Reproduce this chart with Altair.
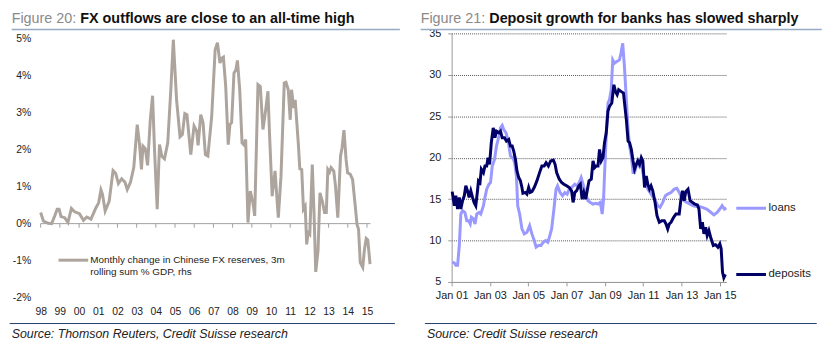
import altair as alt
import pandas as pd

FONT = "Liberation Sans, Arial, Helvetica, sans-serif"

# ---------------- Figure 20 data: FX reserves change, 3m rolling sum % GDP ----------------
fx_year = [1998.00, 1998.14, 1998.39, 1998.57, 1998.74, 1998.86, 1998.96, 1999.06, 1999.25, 1999.42,
           1999.60, 1999.77, 2000.02, 2000.23, 2000.40, 2000.62, 2000.88, 2001.02, 2001.14, 2001.22,
           2001.36, 2001.57, 2001.77, 2001.91, 2002.05, 2002.22, 2002.39, 2002.51, 2002.68, 2002.85,
           2003.03, 2003.15, 2003.25, 2003.33, 2003.45, 2003.57, 2003.71, 2003.83, 2003.93, 2004.07,
           2004.19, 2004.31, 2004.45, 2004.62, 2004.79, 2004.91, 2005.08, 2005.26, 2005.38, 2005.51,
           2005.62, 2005.82, 2005.99, 2006.13, 2006.20, 2006.34, 2006.46, 2006.58, 2006.71,
           2006.91, 2007.09, 2007.21, 2007.34, 2007.43, 2007.52, 2007.64, 2007.77, 2007.86, 2007.95,
           2008.07, 2008.17, 2008.25, 2008.37, 2008.49, 2008.58, 2008.68, 2008.80, 2008.92,
           2009.06, 2009.15, 2009.32, 2009.44, 2009.58, 2009.70, 2009.84, 2009.92,
           2010.06, 2010.21, 2010.38, 2010.52, 2010.69, 2010.78, 2010.90,
           2011.00, 2011.07, 2011.18, 2011.26, 2011.42, 2011.50, 2011.60, 2011.69, 2011.78, 2011.86, 2011.93,
           2012.02, 2012.15, 2012.24, 2012.33, 2012.45, 2012.55, 2012.67, 2012.79, 2012.88, 2012.96,
           2013.05, 2013.13, 2013.27, 2013.36, 2013.48, 2013.62, 2013.70, 2013.80, 2013.91, 2013.99,
           2014.13, 2014.25, 2014.39, 2014.48, 2014.56, 2014.65, 2014.78, 2014.87, 2014.96,
           2015.04, 2015.16]
fx_value = [0.30, 0.07, 0.01, 0.00, 0.22, 0.39, 0.39, 0.19, 0.16, 0.03,
            0.41, 0.32, 0.27, 0.09, 0.18, 0.12, 0.43, 0.56, 0.91, 0.79,
            0.34, 0.61, 1.43, 1.35, 1.08, 1.21, 1.12, 0.92, 1.12, 1.51,
            2.67, 2.13, 1.46, 2.09, 2.02, 1.57, 2.80, 3.45, 2.00, 0.39,
            2.13, 1.82, 1.75, 2.18, 3.70, 4.96, 3.34, 2.34, 2.40, 2.97,
            2.94, 1.86, 2.63, 2.49, 2.11, 2.94, 2.72, 1.86, 1.82,
            2.89, 4.69, 4.88, 4.33, 4.46, 4.49, 3.70, 2.13, 2.67, 2.73,
            4.06, 4.15, 4.40, 3.61, 2.18, 2.13, 2.27, 0.03, 0.88,
            0.56, 0.21, 3.75, 3.70, 2.54, 2.98, 3.57, 2.45,
            0.74, 1.42, 0.16, 1.28, 3.79, 3.81, 3.61,
            2.80, 3.61, 3.12, 3.34, 2.18, 1.48, 1.46, 0.39, 0.47, -0.56, -0.24,
            -0.29, 1.59, 0.30, -1.30, -0.73, 0.83, 0.61, 0.30, 0.30, 1.46,
            1.39, 1.51, 1.42, 1.01, 0.16, 1.82, 2.04, 2.52, 1.73, 1.37,
            1.33, 1.19, 0.47, -0.02, -0.15, -1.05, -1.18, -0.69, -0.40,
            -0.44, -1.09]
fx_ticks = list(range(1998, 2016))
fx_yticks = list(range(-2, 6))

# ---------------- Figure 21 data: loans and deposits growth ----------------
dep_year = [2001.03, 2001.14, 2001.22, 2001.31, 2001.40, 2001.48, 2001.57, 2001.66, 2001.74, 2001.83,
            2001.91, 2002.00, 2002.09, 2002.17, 2002.26, 2002.34, 2002.40, 2002.48, 2002.55, 2002.66,
            2002.74, 2002.83, 2002.90, 2002.98, 2003.07, 2003.17, 2003.26, 2003.34, 2003.47, 2003.55,
            2003.64, 2003.76, 2003.86, 2003.98, 2004.07, 2004.16, 2004.24, 2004.33, 2004.41, 2004.50,
            2004.59, 2004.67, 2004.72, 2004.84, 2004.93, 2005.02, 2005.10, 2005.19, 2005.31, 2005.45,
            2005.59, 2005.71, 2005.83, 2005.93, 2006.05, 2006.17, 2006.31, 2006.40, 2006.48, 2006.62,
            2006.74, 2006.86, 2007.00, 2007.14, 2007.26, 2007.34, 2007.43, 2007.52, 2007.64, 2007.72,
            2007.81, 2007.90, 2008.00, 2008.09, 2008.17, 2008.29, 2008.38, 2008.47, 2008.55, 2008.64,
            2008.72, 2008.81, 2008.90, 2008.98, 2009.07, 2009.16, 2009.24, 2009.36, 2009.47, 2009.55,
            2009.64, 2009.72, 2009.84, 2009.97,
            2010.12, 2010.21, 2010.29, 2010.38, 2010.47, 2010.55, 2010.64, 2010.72, 2010.81, 2010.90,
            2010.98, 2011.07, 2011.16, 2011.24, 2011.33, 2011.41, 2011.50, 2011.62, 2011.72, 2011.84,
            2011.97, 2012.10, 2012.19, 2012.28, 2012.36, 2012.45, 2012.59, 2012.71, 2012.88, 2012.97,
            2013.05, 2013.14, 2013.22, 2013.34, 2013.45, 2013.57, 2013.69, 2013.83, 2013.91, 2014.00,
            2014.09, 2014.17, 2014.26, 2014.34, 2014.43, 2014.52, 2014.66, 2014.78, 2014.90, 2015.00,
            2015.07, 2015.14, 2015.21, 2015.29]
dep_value = [15.9, 14.2, 15.4, 13.8, 15.2, 13.8, 14.8, 15.4, 16.6, 16.0,
             15.2, 16.0, 15.2, 14.6, 14.2, 15.8, 17.2, 17.0, 18.6, 18.2,
             19.0, 19.0, 20.0, 19.2, 21.8, 23.6, 22.4, 23.2, 23.0, 23.2,
             22.4, 22.4, 22.0, 22.2, 21.4, 21.4, 20.8, 19.8, 18.4, 17.6,
             17.2, 16.4, 15.7, 15.8, 15.6, 16.4, 15.8, 15.9, 16.4, 17.2,
             18.2, 19.0, 19.0, 19.4, 19.0, 19.6, 19.7, 19.2, 18.2, 17.4,
             17.0, 16.8, 16.6, 16.4, 16.0, 14.6, 15.8, 16.0, 16.6, 16.8,
             15.0, 15.8, 15.0, 16.2, 17.2, 17.4, 19.6, 18.8, 19.0, 19.0,
             21.0, 19.6, 20.0, 21.8, 23.0, 25.6, 26.2, 26.6, 28.8, 28.0,
             27.6, 28.2, 28.0, 27.8,
             24.6, 22.0, 21.8, 21.0, 19.6, 18.6, 19.2, 19.6, 19.2, 20.0,
             19.6, 16.4, 17.8, 16.8, 16.2, 16.6, 16.0, 14.6, 13.0, 12.2,
             12.4, 12.4, 12.0, 11.4, 12.0, 12.2, 12.8, 13.2, 13.2, 15.0,
             16.0, 14.8, 15.9, 16.2, 14.8, 14.6, 14.4, 14.3, 13.8, 11.4,
             12.2, 10.8, 11.6, 10.6, 11.2, 10.4, 9.4, 9.5, 9.2, 9.6,
             9.0, 6.2, 5.5, 5.9]

loan_year = [2001.03, 2001.14, 2001.22, 2001.31, 2001.40, 2001.48, 2001.57, 2001.69, 2001.79, 2001.88,
             2001.97, 2002.03, 2002.14, 2002.22, 2002.31, 2002.43, 2002.52, 2002.66, 2002.72, 2002.83,
             2002.95, 2003.03, 2003.12, 2003.24, 2003.34, 2003.47, 2003.55, 2003.64, 2003.72, 2003.84,
             2003.95, 2004.07, 2004.19, 2004.29, 2004.38, 2004.45, 2004.55, 2004.67, 2004.79, 2004.93,
             2005.07, 2005.19, 2005.31, 2005.41, 2005.53, 2005.66, 2005.79, 2005.91, 2006.02, 2006.10,
             2006.22, 2006.34, 2006.45, 2006.53, 2006.66, 2006.79, 2006.91, 2007.03, 2007.14, 2007.26,
             2007.43, 2007.55, 2007.66, 2007.76, 2007.86, 2007.95, 2008.03, 2008.12, 2008.24, 2008.38,
             2008.52, 2008.64, 2008.76, 2008.86, 2008.93, 2009.00, 2009.07, 2009.16, 2009.24, 2009.33,
             2009.41, 2009.50, 2009.62, 2009.76, 2009.84, 2009.93, 2010.02,
             2010.12, 2010.21, 2010.29, 2010.38, 2010.47, 2010.55, 2010.64, 2010.72, 2010.81, 2010.90,
             2010.98, 2011.07, 2011.24, 2011.41, 2011.59, 2011.76, 2011.88, 2012.02, 2012.16, 2012.28,
             2012.45, 2012.62, 2012.76, 2012.88, 2013.00, 2013.14, 2013.28, 2013.45, 2013.62, 2013.79,
             2013.91, 2014.09, 2014.31, 2014.48, 2014.69, 2014.86, 2015.00, 2015.12, 2015.24, 2015.34]
loan_value = [7.4, 7.3, 7.0, 7.0, 9.4, 13.2, 13.6, 13.4, 12.4, 12.4,
              12.0, 12.8, 12.6, 12.0, 13.2, 13.4, 13.2, 14.2, 15.0, 16.2,
              16.8, 17.0, 19.0, 19.8, 21.4, 22.6, 23.6, 23.9, 23.4, 23.0,
              22.0, 20.2, 20.0, 19.4, 17.8, 14.2, 13.2, 11.4, 10.8, 11.0,
              11.8, 10.8, 10.0, 9.2, 9.4, 9.4, 9.8, 10.0, 9.8, 10.4,
              11.4, 13.8, 16.2, 16.6, 15.8, 15.4, 15.8, 15.6, 16.2, 16.4,
              16.8, 16.6, 17.0, 17.6, 16.8, 16.0, 15.4, 14.8, 14.6, 14.4,
              14.5, 14.4, 14.6, 13.2, 15.0, 19.0, 22.6, 26.6, 27.0, 28.2,
              31.8, 31.4, 31.6, 31.8, 32.6, 33.8, 31.0,
              27.0, 23.4, 21.4, 20.2, 18.2, 18.2, 19.0, 19.6, 19.0, 19.4,
              18.2, 17.4, 16.2, 15.6, 15.0, 14.2, 14.0, 14.6, 15.4, 15.6,
              15.8, 16.2, 16.3, 15.8, 15.2, 14.8, 14.6, 14.4, 14.2, 14.1,
              14.1, 14.0, 13.8, 13.5, 13.1, 13.4, 13.8, 14.2, 13.8, 13.9]
bank_xticks = [2001, 2003, 2005, 2007, 2009, 2011, 2013, 2015]
bank_yticks = [5, 10, 15, 20, 25, 30, 35]

fx_df = pd.DataFrame({"year": fx_year, "value": fx_value})
tick_df = pd.DataFrame({"year": fx_ticks, "value": [0] * len(fx_ticks),
                        "value2": [-0.11] * len(fx_ticks)})
zero_df = pd.DataFrame({"value": [0]})
dep_df = pd.DataFrame({"year": dep_year, "value": dep_value})
loan_df = pd.DataFrame({"year": loan_year, "value": loan_value})
one = pd.DataFrame({"k": [0]})

TITLE_GRAY = "#8a8a8a"
TITLE_BLACK = "#111111"
UNDERLINE = "#93abc3"
SEPARATOR = "#1f3d6b"
TXT = "#222222"


def deco(x0, x1, x_src, title_num, title_text, source, bold_dx=69.3):
    """Titles, underline, bottom separator and source text, positioned in panel pixels."""
    return [
        alt.Chart(one).mark_text(text=title_num, align="left", baseline="top", font=FONT,
                                 fontSize=14.5, color=TITLE_GRAY)
        .encode(x=alt.value(x0), y=alt.value(-22)),
        alt.Chart(one).mark_text(text=title_text, align="left", baseline="top", font=FONT,
                                 fontSize=14.5, fontWeight="bold", color=TITLE_BLACK)
        .encode(x=alt.value(x0 + bold_dx), y=alt.value(-22)),
        alt.Chart(one).mark_rule(color=UNDERLINE, strokeWidth=1.5)
        .encode(x=alt.value(x0), x2=alt.value(x1), y=alt.value(-4)),
        alt.Chart(one).mark_rule(color=SEPARATOR, strokeWidth=1)
        .encode(x=alt.value(x_src - 2), x2=alt.value(x1 - 5), y=alt.value(293)),
        alt.Chart(one).mark_text(text=source, align="left", baseline="alphabetic", font=FONT,
                                 fontSize=12.5, fontStyle="italic", color=TXT)
        .encode(x=alt.value(x_src), y=alt.value(308)),
    ]


# ---------------- Left panel ----------------
LW, LH = 333, 267
x_axis_l = alt.Axis(values=fx_ticks, labelExpr="substring(toString(datum.value), 2, 4)",
                    domain=False, ticks=False, tickSize=0, grid=False, labelPadding=9,
                    labelFontSize=10.5, labelFont=FONT, labelColor=TXT, title=None,
                    labelFlush=False, labelOverlap=False)
y_axis_l = alt.Axis(values=fx_yticks, labelExpr="toString(datum.value) + '%'",
                    domain=False, ticks=False, tickSize=0, grid=False, labelPadding=10,
                    labelFontSize=10.5, labelFont=FONT, labelColor=TXT, title=None,
                    labelOverlap=False)
x_scale_l = alt.Scale(domain=[1998, 2015.18], nice=False, zero=False)
y_scale_l = alt.Scale(domain=[-2, 5.13], nice=False, zero=False)
xl = alt.X("year:Q", scale=x_scale_l, axis=x_axis_l)
yl = alt.Y("value:Q", scale=y_scale_l, axis=y_axis_l)

FX_COLOR = "#aca49d"
AX_GRAY = "#a0a0a0"
zero_line = alt.Chart(zero_df).mark_rule(color=AX_GRAY, strokeWidth=1).encode(y=yl)
zero_ticks = alt.Chart(tick_df).mark_rule(color=AX_GRAY, strokeWidth=1).encode(
    x=xl, y=yl, y2="value2:Q")
fx_line = alt.Chart(fx_df).mark_line(color=FX_COLOR, strokeWidth=3).encode(x=xl, y=yl)
leg_line = alt.Chart(one).mark_rule(color=FX_COLOR, strokeWidth=3).encode(
    x=alt.value(18), x2=alt.value(48), y=alt.value(229))
leg_t1 = alt.Chart(one).mark_text(text="Monthly change in Chinese FX reserves, 3m", align="left",
                                  baseline="middle", font=FONT, fontSize=10, color=TXT).encode(
    x=alt.value(50), y=alt.value(229))
leg_t2 = alt.Chart(one).mark_text(text="rolling sum % GDP, rhs", align="left",
                                  baseline="middle", font=FONT, fontSize=10, color=TXT).encode(
    x=alt.value(50), y=alt.value(241))

left = alt.layer(
    zero_line, zero_ticks, fx_line, leg_line, leg_t1, leg_t2,
    *deco(-29.3, 362.7, -29.3, "Figure 20:", "FX outflows are close to an all-time high",
          "Source: Thomson Reuters, Credit Suisse research")
).properties(width=LW, height=LH)

# ---------------- Right panel ----------------
RW, RH = 277, 251
xr = alt.X("year:Q",
           scale=alt.Scale(domain=[2001, 2015.32], nice=False, zero=False),
           axis=alt.Axis(values=bank_xticks, labelExpr="'Jan ' + substring(toString(datum.value), 2, 4)",
                         domain=True, domainColor="#999999", ticks=True, tickColor="#999999",
                         tickSize=4, grid=False, labelPadding=4, labelFontSize=11, labelFont=FONT,
                         labelColor=TXT, title=None, labelFlush=False, labelOverlap=False))
yr = alt.Y("value:Q",
           scale=alt.Scale(domain=[5, 35], nice=False, zero=False),
           axis=alt.Axis(values=bank_yticks, domain=True, domainColor="#999999", ticks=True,
                         tickColor="#999999", tickSize=4, grid=True, gridColor="#555555",
                         gridDash=[1, 1], gridWidth=1, labelPadding=7, labelFontSize=11,
                         labelFont=FONT, labelColor=TXT, title=None, labelOverlap=False))

LOAN_COLOR = "#9999ff"
DEP_COLOR = "#000066"
loan_line = alt.Chart(loan_df).mark_line(color=LOAN_COLOR, strokeWidth=3).encode(x=xr, y=yr)
dep_line = alt.Chart(dep_df).mark_line(color=DEP_COLOR, strokeWidth=3).encode(x=xr, y=yr)

loan_leg = alt.Chart(one).mark_rule(color=LOAN_COLOR, strokeWidth=3).encode(
    x=alt.value(287.4), x2=alt.value(317.4), y=alt.datum(loan_value[-1]))
loan_txt = alt.Chart(one).mark_text(text="loans", align="left", baseline="middle", font=FONT,
                                    fontSize=11.5, color=TXT).encode(
    x=alt.value(320), y=alt.datum(loan_value[-1]))
dep_leg = alt.Chart(one).mark_rule(color=DEP_COLOR, strokeWidth=3).encode(
    x=alt.value(287.4), x2=alt.value(317.4), y=alt.datum(dep_value[-1]))
dep_txt = alt.Chart(one).mark_text(text="deposits", align="left", baseline="middle", font=FONT,
                                   fontSize=11.5, color=TXT).encode(
    x=alt.value(320), y=alt.datum(dep_value[-1]))

right = alt.layer(
    loan_line, dep_line, loan_leg, loan_txt, dep_leg, dep_txt,
    *deco(-31.3, 373.7, -25, "Figure 21:", "Deposit growth for banks has slowed sharply",
          "Source: Credit Suisse research")
).properties(width=RW, height=RH)

chart = alt.hconcat(left, right, spacing=18).configure_view(
    stroke="transparent").properties(padding=0)

chart.save("out.html", embed_options={"renderer": "svg", "actions": False})
